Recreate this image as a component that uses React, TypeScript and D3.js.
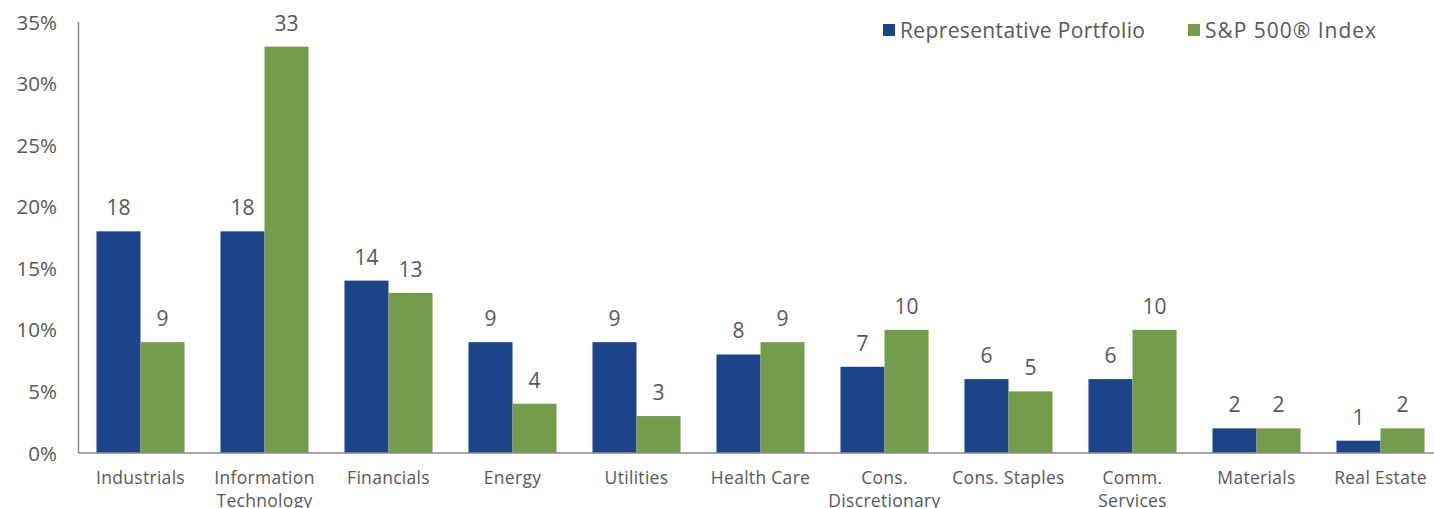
import * as d3 from "d3";
import React, { useRef, useEffect } from "react";

const categories = [
  ["Industrials"],
  ["Information", "Technology"],
  ["Financials"],
  ["Energy"],
  ["Utilities"],
  ["Health Care"],
  ["Cons.", "Discretionary"],
  ["Cons. Staples"],
  ["Comm.", "Services"],
  ["Materials"],
  ["Real Estate"],
];
const portfolio = [18, 18, 14, 9, 9, 8, 7, 6, 6, 2, 1];
const sp500 = [9, 33, 13, 4, 3, 9, 10, 5, 10, 2, 2];
const yTicks = [0, 5, 10, 15, 20, 25, 30, 35];
const seriesNames = ["Representative Portfolio", "S&P 500® Index"];
const colors = ["#1D4489", "#739C4B"];

const W = 1434;
const H = 508;
const FONT = "'Open Sans', 'Liberation Sans', sans-serif";
const TEXT = "#595959";

export default function App() {
  const svgRef = useRef<SVGSVGElement | null>(null);

  useEffect(() => {
    if (!svgRef.current) return;
    const svg = d3.select(svgRef.current);
    svg.selectAll("*").remove();

    const left = 78.5;
    const step = 124;
    const baseline = 453;
    const top = 22;

    const x = d3
      .scaleBand<number>()
      .domain(categories.map((_, i) => i))
      .range([left, left + step * categories.length])
      .paddingInner(0.29)
      .paddingOuter(0.145);
    const sub = d3
      .scaleBand<number>()
      .domain([0, 1])
      .range([0, x.bandwidth()]);
    const y = d3.scaleLinear().domain([0, 35]).range([baseline, top]);

    // y axis labels
    svg
      .append("g")
      .selectAll("text")
      .data(yTicks)
      .enter()
      .append("text")
      .attr("x", 57)
      .attr("y", (d) => y(d) + 7.5)
      .attr("text-anchor", "end")
      .style("font-family", FONT)
      .style("font-size", "20.5px")
      .attr("fill", TEXT)
      .text((d) => `${d}%`);

    // bars
    const series = [portfolio, sp500];
    series.forEach((vals, s) => {
      const g = svg.append("g");
      g.selectAll("rect")
        .data(vals)
        .enter()
        .append("rect")
        .attr("x", (_, i) => x(i)! + sub(s)!)
        .attr("y", (d) => y(d))
        .attr("width", sub.bandwidth())
        .attr("height", (d) => baseline - y(d))
        .attr("fill", colors[s]);
      g.selectAll("text")
        .data(vals)
        .enter()
        .append("text")
        .attr("x", (_, i) => x(i)! + sub(s)! + sub.bandwidth() / 2)
        .attr("y", (d) => y(d) - 16)
        .attr("text-anchor", "middle")
        .style("font-family", FONT)
        .style("font-size", "21px")
        .attr("fill", TEXT)
        .text((d) => d);
    });

    // axes lines
    svg
      .append("line")
      .attr("x1", left)
      .attr("x2", W)
      .attr("y1", baseline)
      .attr("y2", baseline)
      .attr("stroke", "#8c8c8c")
      .attr("stroke-width", 1.5);
    svg
      .append("line")
      .attr("x1", left)
      .attr("x2", left)
      .attr("y1", top)
      .attr("y2", baseline)
      .attr("stroke", "#8c8c8c")
      .attr("stroke-width", 1.5);

    // category labels
    const cat = svg
      .append("g")
      .selectAll("text")
      .data(categories)
      .enter()
      .append("text")
      .attr("text-anchor", "middle")
      .style("font-family", FONT)
      .style("font-size", "17.5px")
      .style("letter-spacing", "0.3px")
      .attr("fill", TEXT)
      .attr("transform", (_, i) => `translate(${x(i)! + x.bandwidth() / 2},484)`);
    cat
      .selectAll("tspan")
      .data((d) => d)
      .enter()
      .append("tspan")
      .attr("x", 0)
      .attr("dy", (_, j) => (j === 0 ? 0 : 23))
      .text((d) => d);

    // legend
    const legendX = [883, 1188];
    const legendLen = [245, 171];
    seriesNames.forEach((name, s) => {
      const lg = svg.append("g").attr("transform", `translate(${legendX[s]},24)`);
      lg.append("rect").attr("width", 12).attr("height", 12).attr("fill", colors[s]);
      lg.append("text")
        .attr("x", 17)
        .attr("y", 13.5)
        .attr("textLength", legendLen[s])
        .attr("lengthAdjust", "spacing")
        .style("font-family", FONT)
        .style("font-size", "21px")
        .attr("fill", TEXT)
        .text(name);
    });
  }, []);

  return (
    <svg
      ref={svgRef}
      width={W}
      height={H}
      style={{ position: "absolute", left: 0, top: 0, background: "#fff" }}
    />
  );
}
